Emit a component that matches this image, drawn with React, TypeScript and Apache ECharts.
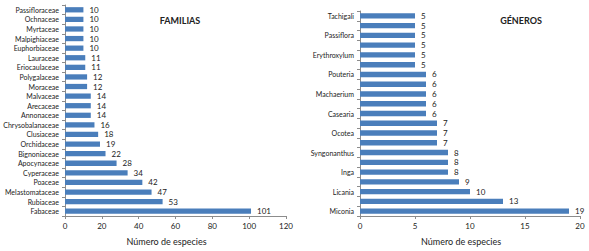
import React, { useEffect, useRef } from "react";
import * as echarts from "echarts";

const familias = [
  "Fabaceae", "Rubiaceae", "Melastomataceae", "Poaceae", "Cyperaceae", "Apocynaceae",
  "Bignoniaceae", "Orchidaceae", "Clusiaceae", "Chrysobalanaceae", "Annonaceae",
  "Arecaceae", "Malvaceae", "Moraceae", "Polygalaceae", "Eriocaulaceae", "Lauraceae",
  "Euphorbiaceae", "Malpighiaceae", "Myrtaceae", "Ochnaceae", "Passifloraceae",
];
const familiasValues = [101, 53, 47, 42, 34, 28, 22, 19, 18, 16, 14, 14, 14, 12, 12, 11, 11, 10, 10, 10, 10, 10];

// every other genus label is hidden in the reference (axis label interval)
const generos = [
  "Miconia", "", "Licania", "", "Inga", "", "Syngonanthus", "", "Ocotea", "",
  "Casearia", "", "Machaerium", "", "Pouteria", "", "Erythroxylum", "", "Passiflora", "",
  "Tachigali",
];
const generosValues = [19, 13, 10, 9, 8, 8, 8, 7, 7, 7, 6, 6, 6, 6, 6, 5, 5, 5, 5, 5, 5];

const familiasTicks = [0, 20, 40, 60, 80, 100, 120];
const generosTicks = [0, 5, 10, 15, 20];

const FONT = "Lato, 'Open Sans', sans-serif";
const BLUE = "#4A7EBB";
const AXIS = "#8C8C8C";

export default function App() {
  const ref = useRef<HTMLDivElement>(null);
  useEffect(() => {
    if (!ref.current) return;
    const chart = echarts.init(ref.current, null, { renderer: "svg" });
    const xAxisCommon = (ticks: number[], gridIndex: number) => ({
      type: "value" as const,
      gridIndex,
      min: ticks[0],
      max: ticks[ticks.length - 1],
      interval: ticks[1] - ticks[0],
      splitLine: { show: false },
      axisLine: { show: true, lineStyle: { color: AXIS, width: 1 } },
      axisTick: { show: true, length: 3, lineStyle: { color: AXIS } },
      axisLabel: { fontFamily: FONT, fontSize: 8, color: "#222", margin: 6 },
      name: "Número de especies",
      nameLocation: "middle" as const,
      nameGap: 21,
      nameTextStyle: { fontFamily: FONT, fontSize: 9, color: "#222", padding: [0, 18, 0, 0] },
    });
    const yAxisCommon = (data: string[], gridIndex: number, labelInterval: number) => ({
      type: "category" as const,
      gridIndex,
      data,
      axisLine: { show: true, lineStyle: { color: AXIS, width: 1 } },
      axisTick: { show: true, length: 3, interval: 0, lineStyle: { color: AXIS } },
      axisLabel: { fontFamily: FONT, fontSize: 7, color: "#222", margin: 6, interval: labelInterval },
    });
    const barCommon = {
      type: "bar" as const,
      barWidth: "55%",
      itemStyle: { color: BLUE },
      label: { show: true, position: "right" as const, distance: 6, fontFamily: FONT, fontSize: 8, color: "#222" },
    };
    chart.setOption({
      animation: false,
      backgroundColor: "#ffffff",
      title: [
        { text: "FAMILIAS", left: 175, top: 11, textAlign: "center",
          textStyle: { fontFamily: FONT, fontSize: 9, fontWeight: "bold", color: "#222" } },
        { text: "GÉNEROS", left: 516, top: 11, textAlign: "center",
          textStyle: { fontFamily: FONT, fontSize: 9, fontWeight: "bold", color: "#222" } },
      ],
      grid: [
        { left: 65, right: 303, top: 5, bottom: 33.5 },
        { left: 360, right: 9, top: 11, bottom: 33 },
      ],
      xAxis: [xAxisCommon(familiasTicks, 0), xAxisCommon(generosTicks, 1)],
      yAxis: [yAxisCommon(familias, 0, 0), yAxisCommon(generos, 1, 1)],
      series: [
        { ...barCommon, xAxisIndex: 0, yAxisIndex: 0, data: familiasValues },
        { ...barCommon, xAxisIndex: 1, yAxisIndex: 1, data: generosValues },
      ],
    });
    return () => chart.dispose();
  }, []);
  return <div ref={ref} style={{ width: 589, height: 251, position: "absolute", left: 0, top: 0 }} />;
}
